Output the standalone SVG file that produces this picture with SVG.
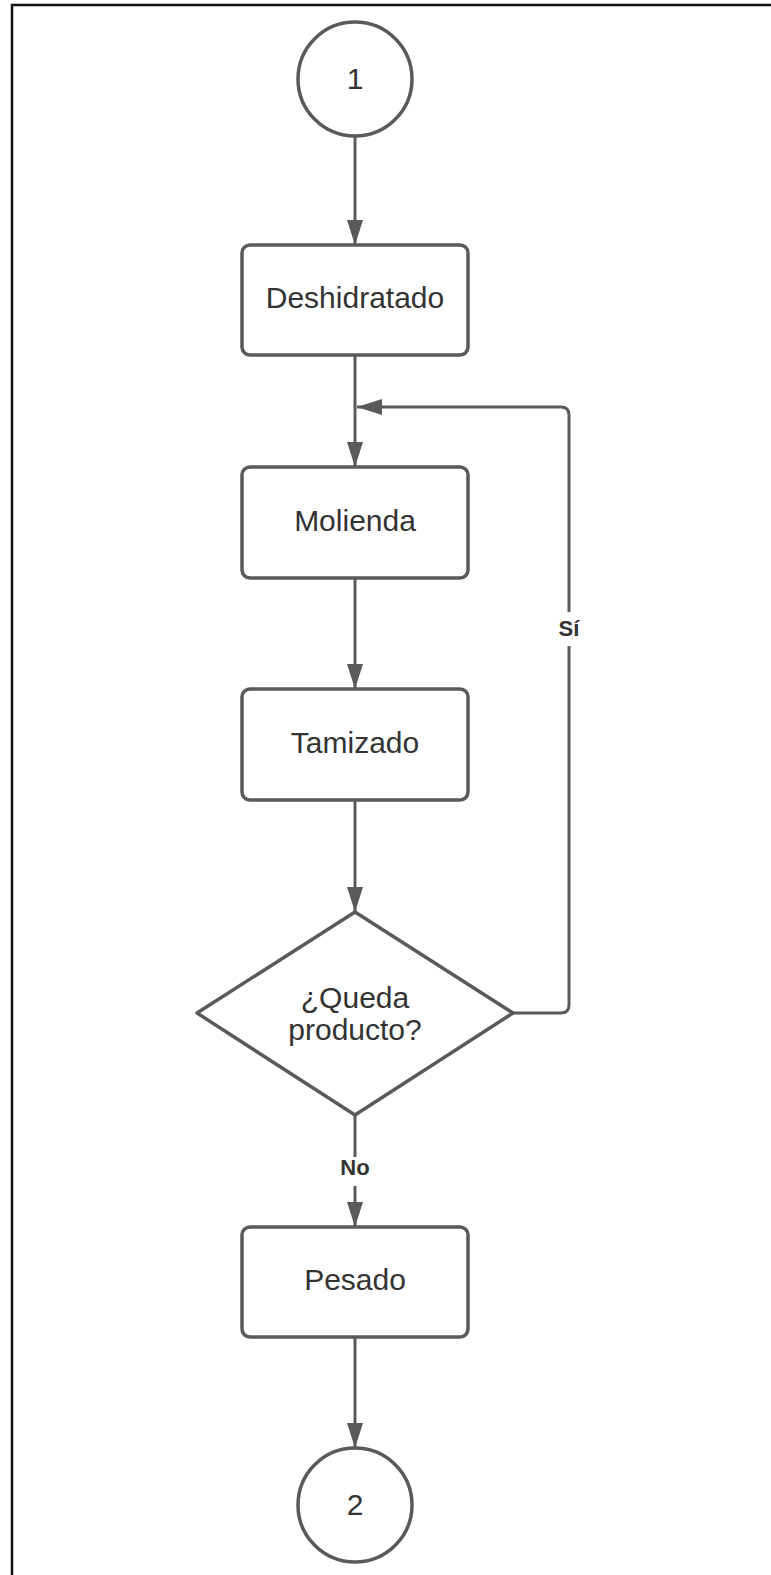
<svg xmlns="http://www.w3.org/2000/svg" width="771" height="1575" viewBox="0 0 771 1575">
<defs>
<style>
.shape{fill:#ffffff;stroke:#5a5a5a;stroke-width:3.5;stroke-linejoin:round}
.lbl{font-family:"Liberation Sans",Arial,sans-serif;font-size:30px;fill:#333333;text-anchor:middle}
.edge{fill:none;stroke:#5a5a5a;stroke-width:3}
.elbl{font-family:"Liberation Sans",Arial,sans-serif;font-size:22px;font-weight:bold;fill:#333333;text-anchor:middle}
</style>
<marker id="arr" viewBox="0 0 25 16" refX="25" refY="8" markerWidth="25" markerHeight="16" markerUnits="userSpaceOnUse" orient="auto">
<path d="M0,0 L25,8 L0,16 Z" fill="#5a5a5a"/>
</marker>
</defs>
<rect x="0" y="0" width="771" height="1575" fill="#ffffff"/>
<g id="frame">
<path d="M12,1575 L12,5 L771,5" fill="none" stroke="#111111" stroke-width="2.5"/>
</g>
<g id="connectors">
<path class="edge" d="M355,136 L355,245" marker-end="url(#arr)"/>
<path class="edge" d="M355,355 L355,467" marker-end="url(#arr)"/>
<path class="edge" d="M355,578 L355,689" marker-end="url(#arr)"/>
<path class="edge" d="M355,800 L355,912" marker-end="url(#arr)"/>
<path class="edge" d="M513,1013 L561,1013 Q569,1013 569,1005 L569,415 Q569,407 561,407 L357,407" marker-end="url(#arr)"/>
<path class="edge" d="M355,1115 L355,1157"/>
<path class="edge" d="M355,1186 L355,1227" marker-end="url(#arr)"/>
<path class="edge" d="M355,1337 L355,1448" marker-end="url(#arr)"/>
<rect x="556" y="612" width="28" height="34" fill="#ffffff"/>
<text class="elbl" x="569" y="636">Sí</text>
<text class="elbl" x="355" y="1175">No</text>
</g>
<g id="start">
<circle class="shape" cx="355" cy="79" r="57"/>
<text class="lbl" x="355" y="89">1</text>
</g>
<g id="deshidratado">
<rect class="shape" x="242" y="245" width="226" height="110" rx="8"/>
<text class="lbl" x="355" y="308">Deshidratado</text>
</g>
<g id="molienda">
<rect class="shape" x="242" y="467" width="226" height="111" rx="8"/>
<text class="lbl" x="355" y="531">Molienda</text>
</g>
<g id="tamizado">
<rect class="shape" x="242" y="689" width="226" height="111" rx="8"/>
<text class="lbl" x="355" y="753">Tamizado</text>
</g>
<g id="decision">
<polygon class="shape" points="355,912 513,1013 355,1115 197,1013"/>
<text class="lbl" x="355" y="1008">¿Queda</text>
<text class="lbl" x="355" y="1040">producto?</text>
</g>
<g id="pesado">
<rect class="shape" x="242" y="1227" width="226" height="110" rx="8"/>
<text class="lbl" x="355" y="1290">Pesado</text>
</g>
<g id="end">
<circle class="shape" cx="355" cy="1505" r="57"/>
<text class="lbl" x="355" y="1515">2</text>
</g>
</svg>
